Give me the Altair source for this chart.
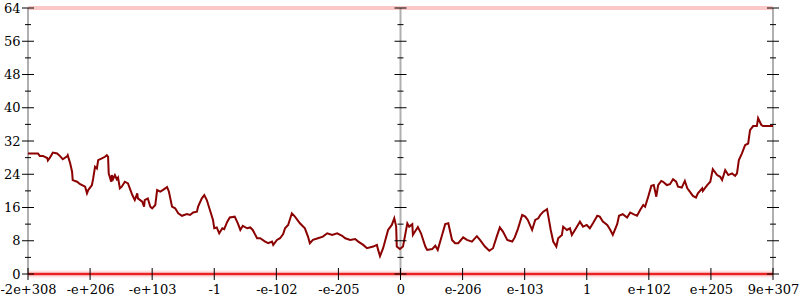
import altair as alt
import pandas as pd

# ---- data ----
x_tick_labels = ['-2e+308', '-e+206', '-e+103', '-1', '-e-102', '-e-205', '0',
                 'e-206', 'e-103', '1', 'e+102', 'e+205', '9e+307']
y_major = [0, 8, 16, 24, 32, 40, 48, 56, 64]
y_minor = [4, 12, 20, 28, 36, 44, 52, 60]
axis_positions = [0, 6, 12]

curve_x = [0, 0.16, 0.19, 0.24, 0.31, 0.32, 0.35, 0.40, 0.47, 0.52, 0.56, 0.63, 0.64, 0.68,
           0.71, 0.72, 0.79, 0.84, 0.92, 0.95, 0.97, 1.03, 1.05, 1.08, 1.11, 1.13, 1.19, 1.24,
           1.27, 1.29, 1.30, 1.34, 1.35, 1.37, 1.40, 1.43, 1.45, 1.48, 1.51, 1.56, 1.61, 1.64,
           1.68, 1.72, 1.76, 1.77, 1.84, 1.87, 1.88, 1.93, 1.97, 2.00, 2.05, 2.08, 2.13, 2.17,
           2.24, 2.27, 2.32, 2.37, 2.42, 2.48, 2.56, 2.61, 2.66, 2.72, 2.74, 2.80, 2.84, 2.88,
           2.93, 2.98, 3.00, 3.04, 3.08, 3.13, 3.16, 3.21, 3.25, 3.33, 3.38, 3.42, 3.46, 3.53,
           3.58, 3.62, 3.69, 3.74, 3.82, 3.87, 3.93, 3.95, 4.01, 4.06, 4.11, 4.14, 4.19, 4.25,
           4.30, 4.38, 4.46, 4.51, 4.54, 4.59, 4.67, 4.75, 4.82, 4.90, 4.98, 5.06, 5.11, 5.19,
           5.27, 5.32, 5.40, 5.46, 5.56, 5.62, 5.64, 5.67, 5.72, 5.80, 5.86, 5.90, 5.93, 5.94,
           5.99, 6.04, 6.07, 6.11, 6.14, 6.19, 6.20, 6.28, 6.33, 6.40, 6.43, 6.51, 6.56, 6.60,
           6.67, 6.72, 6.77, 6.83, 6.88, 6.93, 7.01, 7.07, 7.15, 7.23, 7.28, 7.36, 7.43, 7.49,
           7.55, 7.60, 7.65, 7.72, 7.80, 7.84, 7.89, 7.96, 8.01, 8.05, 8.12, 8.17, 8.22, 8.25,
           8.30, 8.36, 8.38, 8.42, 8.46, 8.51, 8.54, 8.60, 8.62, 8.68, 8.73, 8.76, 8.81, 8.89,
           8.94, 9.00, 9.05, 9.10, 9.17, 9.21, 9.26, 9.33, 9.38, 9.42, 9.49, 9.52, 9.58, 9.65,
           9.70, 9.75, 9.81, 9.86, 9.91, 9.94, 9.99, 10.04, 10.08, 10.12, 10.15, 10.20, 10.23,
           10.29, 10.34, 10.39, 10.44, 10.47, 10.53, 10.58, 10.62, 10.66, 10.71, 10.76, 10.79,
           10.86, 10.87, 10.94, 10.99, 11.03, 11.10, 11.15, 11.18, 11.23, 11.28, 11.34, 11.39,
           11.42, 11.45, 11.50, 11.55, 11.60, 11.63, 11.68, 11.74, 11.76, 11.81, 11.84, 12.00]

curve_y = [29.0, 29.0, 28.4, 28.4, 27.9, 27.3, 27.9, 29.2, 29.0, 28.3, 27.6, 28.3, 28.6, 26.6,
           24.6, 22.6, 22.2, 21.6, 21.0, 19.4, 20.2, 21.4, 23.0, 25.8, 25.4, 27.4, 27.8, 28.2,
           28.6, 28.2, 24.2, 22.2, 23.8, 22.8, 23.8, 22.8, 23.2, 20.6, 21.0, 22.2, 21.8, 20.6,
           19.0, 17.8, 19.4, 18.2, 17.4, 16.2, 17.8, 18.2, 16.2, 15.8, 16.6, 20.2, 19.8, 20.2,
           20.9, 19.8, 16.2, 15.8, 14.6, 14.0, 14.4, 14.2, 14.8, 15.0, 16.2, 18.2, 19.0, 17.8,
           15.4, 13.0, 11.0, 11.2, 9.8, 11.0, 10.8, 12.6, 13.6, 13.8, 12.2, 10.6, 11.6, 11.0,
           11.2, 10.6, 8.6, 8.6, 7.8, 7.4, 7.8, 7.0, 8.2, 8.6, 9.6, 11.0, 11.8, 14.6,
           13.8, 12.2, 11.0, 9.0, 7.4, 8.2, 8.6, 9.0, 9.8, 9.4, 9.8, 9.2, 8.6, 8.2,
           8.4, 7.8, 7.0, 6.2, 6.6, 7.0, 5.8, 4.3, 6.2, 10.6, 11.8, 13.4, 11.4, 6.6,
           6.0, 6.6, 9.0, 12.2, 11.4, 12.0, 9.4, 11.3, 9.8, 6.6, 5.8, 6.0, 6.8, 5.8,
           9.4, 12.0, 12.2, 8.2, 7.4, 7.4, 8.8, 8.2, 7.8, 9.1, 8.2, 6.6, 5.6, 6.2,
           9.0, 11.2, 10.2, 8.2, 7.8, 8.8, 10.8, 14.2, 13.8, 13.0, 10.6, 13.0, 13.4, 14.2,
           15.0, 15.6, 14.0, 10.6, 7.8, 6.6, 8.6, 9.4, 11.4, 10.6, 11.0, 9.4, 10.6, 12.6,
           11.4, 11.8, 11.0, 12.2, 14.0, 13.8, 12.6, 11.8, 10.6, 9.4, 12.0, 14.0, 14.4, 13.6,
           14.8, 14.4, 14.0, 15.4, 16.6, 16.2, 18.6, 21.2, 21.4, 18.6, 21.4, 22.4, 22.2,
           21.4, 21.6, 22.8, 22.2, 21.0, 20.8, 22.4, 20.6, 19.8, 18.8, 18.4, 19.4,
           20.6, 20.0, 21.4, 22.2, 25.2, 23.8, 23.4, 22.6, 25.0, 23.8, 24.2, 23.6,
           24.2, 27.4, 29.0, 31.0, 31.4, 34.6, 35.6, 35.6, 37.5, 35.9, 35.6, 35.6]

# ---- tables ----
curve = pd.DataFrame({"x": curve_x, "y": curve_y})
axes_df = pd.DataFrame({"x": axis_positions})
bottom_band = pd.DataFrame({"x": [0, 12], "y": [0, 0]})
top_band = pd.DataFrame({"x": [0, 12], "y": [64, 64]})
major_ticks = pd.DataFrame([{"x": a, "y": v} for a in axis_positions for v in y_major])
minor_ticks = pd.DataFrame([{"x": a, "y": v} for a in axis_positions for v in y_minor])
x_ticks = pd.DataFrame({"x": list(range(len(x_tick_labels))), "y": [0] * len(x_tick_labels)})

FONT = "'DejaVu Serif', serif"
label_expr = "[" + ",".join("'%s'" % s for s in x_tick_labels) + "][datum.value]"

xscale = alt.Scale(domain=[0, 12], nice=False, zero=False)
yscale = alt.Scale(domain=[0, 64], nice=False, zero=False)
xaxis = alt.Axis(values=list(range(len(x_tick_labels))), labelExpr=label_expr, ticks=False,
                 domain=False, grid=False, labelPadding=9, labelFlush=False,
                 labelOverlap=False, title=None, labelFont=FONT, labelFontSize=13,
                 labelColor="black")
yaxis = alt.Axis(values=y_major, ticks=False, domain=False, grid=False, labelPadding=8,
                 labelFlush=False, labelOverlap=False, title=None, labelFont=FONT,
                 labelFontSize=13, labelColor="black")

X = alt.X("x:Q", scale=xscale, axis=xaxis)
Y = alt.Y("y:Q", scale=yscale, axis=yaxis)

grey_axes = alt.Chart(axes_df).mark_rule(color="#b0b0b0", strokeWidth=2).encode(x=X)

top_line = alt.Chart(top_band).mark_line(color="#f03a3a", strokeWidth=4, opacity=0.28).encode(x=X, y=Y)
bottom_halo = alt.Chart(bottom_band).mark_line(color="#f03a3a", strokeWidth=7, opacity=0.15).encode(x=X, y=Y)
bottom_line = alt.Chart(bottom_band).mark_line(color="#e81010", strokeWidth=2.5, opacity=0.9).encode(x=X, y=Y)

curve_line = alt.Chart(curve).mark_line(color="#8b0000", strokeWidth=2).encode(x=X, y=Y)

maj = alt.Chart(major_ticks).mark_tick(orient="horizontal", size=12, thickness=1,
                                       color="black", opacity=1).encode(x=X, y=Y)
mino = alt.Chart(minor_ticks).mark_tick(orient="horizontal", size=6, thickness=1,
                                        color="black", opacity=1).encode(x=X, y=Y)
xt = alt.Chart(x_ticks).mark_tick(orient="vertical", size=12, thickness=1,
                                  color="black", opacity=1).encode(x=X, y=Y)

chart = alt.layer(grey_axes, top_line, bottom_halo, bottom_line, curve_line, maj, mino, xt).properties(
    width=745, height=266,
    padding={"left": 28, "top": 8, "right": 27, "bottom": 26},
    autosize="none",
    background="white",
).configure_view(stroke=None)

chart.save("out.html", embed_options={"renderer": "svg", "actions": False})
